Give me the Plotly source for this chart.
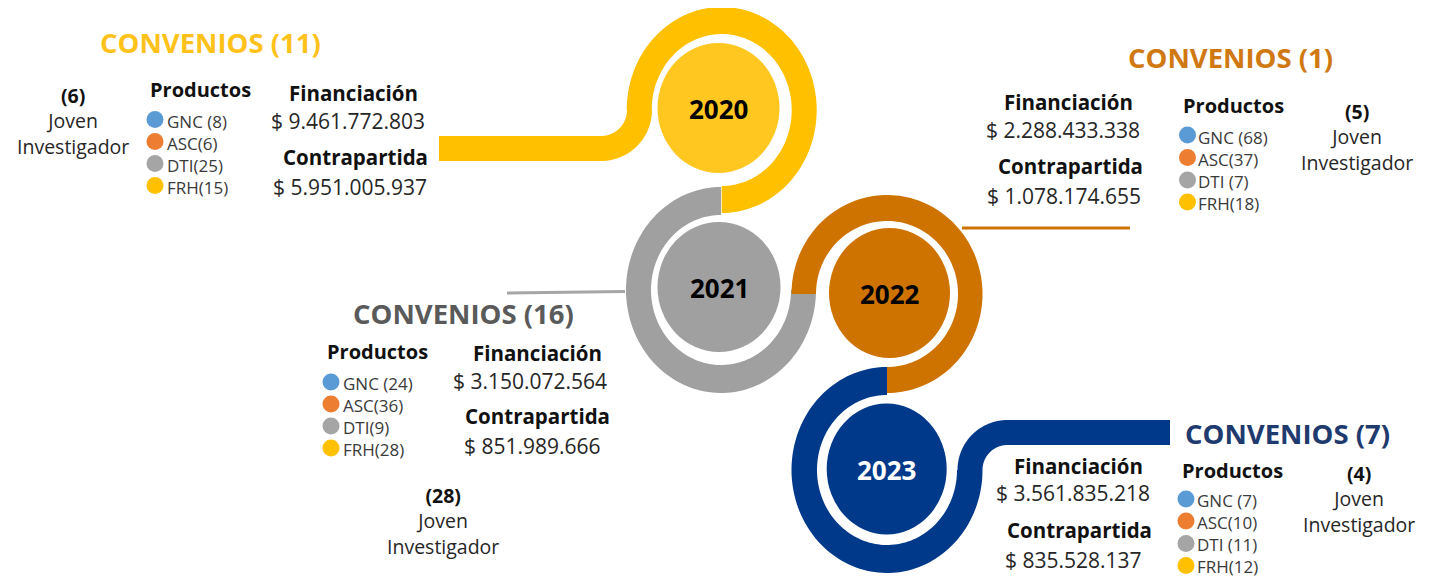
import numpy as np
import plotly.graph_objects as go

# ---------------- data ----------------
years = ["2020", "2021", "2022", "2023"]
convenios = [11, 16, 1, 7]
financiacion = [9461772803, 3150072564, 2288433338, 3561835218]
contrapartida = [5951005937, 851989666, 1078174655, 835528137]
joven_investigador = [6, 28, 5, 4]
product_codes = ["GNC", "ASC", "DTI", "FRH"]
gnc = [8, 24, 68, 7]
asc = [6, 36, 37, 10]
dti = [25, 9, 7, 11]
frh = [15, 28, 18, 12]
product_sep = [[" ", "", "", ""], [" ", "", "", ""], [" ", "", " ", ""], [" ", "", " ", ""]]

# ---------------- styles / layout ----------------
W, H = 1439, 577
OFF = 8  # default page body margin
FONT = "Open Sans"
TXT = "#262626"
LEG_TXT = "#3a3a3a"
prod_colors = ["#5B9BD5", "#ED7D31", "#A5A5A5", "#FFC000"]
ring_colors = ["#FFC000", "#A0A0A0", "#CE7200", "#00398A"]
disk_colors = ["#FFC720", "#A0A0A0", "#CE7200", "#00398A"]
year_text_colors = ["#000000", "#000000", "#000000", "#FFFFFF"]
title_colors = ["#FFC21A", "#5A5A5A", "#D07812", "#1F3A6E"]

rings = [
    dict(c=(721.7, 110), ro=(95, 103), ri=(70, 76), t=(180, 450)),
    dict(c=(721.0, 290), ro=(95, 103), ri=(70, 75), t=(0, 270)),
    dict(c=(887.0, 294), ro=(95.5, 99), ri=(71, 73), t=(-180, 90)),
    dict(c=(887.0, 470), ro=(95.5, 103), ri=(70, 75), t=(0, 270)),
]
disks = [
    dict(c=(718.5, 108), r=(61, 65)),
    dict(c=(719.0, 287), r=(61.5, 65)),
    dict(c=(889.5, 293), r=(60.5, 65)),
    dict(c=(886.7, 469), r=(60, 65.5)),
]
blocks = [
    dict(title=(210, 42), prod=(200, 89), dots=(155, [119.5, 141.5, 163.5, 185.5]), tx=165,
         fin=(353, 93), finv=(348, 121), con=(355, 157), conv=(350, 187),
         jov=(72.5, 121)),
    dict(title=(463, 313), prod=(377.5, 351), dots=(331, [382, 404, 426, 448]), tx=341,
         fin=(537, 353), finv=(530, 381), con=(537.5, 416), conv=(532.5, 446),
         jov=(443, 521)),
    dict(title=(1230, 57), prod=(1233, 105), dots=(1187.5, [135, 157.5, 180, 202]), tx=1196,
         fin=(1068, 102), finv=(1062.5, 130), con=(1070, 166), conv=(1064, 196),
         jov=(1357, 137)),
    dict(title=(1287.5, 433), prod=(1232, 470), dots=(1186, [499, 521, 543.5, 565.5]), tx=1195,
         fin=(1078, 466), finv=(1072.5, 493), con=(1079, 530), conv=(1073, 560),
         jov=(1359, 498.5)),
]


def band_path(cx, cy, ro, ri, t0, t1, n=120):
    t = np.radians(np.linspace(t0, t1, n))
    ox = cx + ro[0] * np.cos(t)
    oy = cy + ro[1] * np.sin(t)
    ix = cx + ri[0] * np.cos(t[::-1])
    iy = cy + ri[1] * np.sin(t[::-1])
    pts = [f"{x:.2f},{y:.2f}" for x, y in zip(np.concatenate([ox, ix]), np.concatenate([oy, iy]))]
    return "M " + " L ".join(pts) + " Z"


def money(v):
    return "$ " + f"{v:,}".replace(",", ".")


shapes = []
shapes.append(dict(type="path", path=band_path(601, 110, (51, 51), (26, 26), 0, 90),
                   fillcolor=ring_colors[0], line=dict(width=0), layer="below"))
shapes.append(dict(type="rect", x0=439, x1=601.5, y0=136, y1=161,
                   fillcolor=ring_colors[0], line=dict(width=0), layer="below"))
shapes.append(dict(type="path", path=band_path(1007.5, 470, (50, 50), (25, 25), 180, 270),
                   fillcolor=ring_colors[3], line=dict(width=0), layer="below"))
shapes.append(dict(type="rect", x0=1007, x1=1170, y0=420, y1=445,
                   fillcolor=ring_colors[3], line=dict(width=0), layer="below"))
shapes.append(dict(type="line", x0=507, y0=293, x1=625, y1=291.5,
                   line=dict(color="#A6A6A6", width=3), layer="below"))
shapes.append(dict(type="line", x0=962, y0=228, x1=1130, y1=228,
                   line=dict(color=ring_colors[2], width=3), layer="below"))

for i in range(4):
    rg = rings[i]
    shapes.append(dict(type="path", path=band_path(rg["c"][0], rg["c"][1], rg["ro"], rg["ri"], *rg["t"]),
                       fillcolor=ring_colors[i], line=dict(width=0), layer="below"))
for i in range(4):
    d = disks[i]
    shapes.append(dict(type="circle", x0=d["c"][0] - d["r"][0], x1=d["c"][0] + d["r"][0],
                       y0=d["c"][1] - d["r"][1], y1=d["c"][1] + d["r"][1],
                       fillcolor=disk_colors[i], line=dict(width=0), layer="below"))

annotations = []


def add_text(x, y, text, size, color=TXT, bold=False, xanchor="center", align="center"):
    annotations.append(dict(x=x, y=y, xref="x", yref="y", text=f"<b>{text}</b>" if bold else text,
                            showarrow=False, xanchor=xanchor, yanchor="middle", align=align,
                            font=dict(family=FONT, size=size, color=color)))


fig = go.Figure()
prod_values = [gnc, asc, dti, frh]
for i in range(4):
    b = blocks[i]
    d = disks[i]
    add_text(d["c"][0], d["c"][1] + 1, years[i], 26, year_text_colors[i], bold=True)
    add_text(b["title"][0], b["title"][1], f"CONVENIOS ({convenios[i]})", 27.5, title_colors[i], bold=True)
    add_text(b["prod"][0], b["prod"][1], "Productos", 20, "#111111", bold=True)
    add_text(b["fin"][0], b["fin"][1], "Financiación", 20.5, "#111111", bold=True)
    add_text(b["finv"][0], b["finv"][1], money(financiacion[i]), 21, TXT)
    add_text(b["con"][0], b["con"][1], "Contrapartida", 20.5, "#111111", bold=True)
    add_text(b["conv"][0], b["conv"][1], money(contrapartida[i]), 21, TXT)
    jx, jy = b["jov"]
    add_text(jx, jy, f"<span style='color:#111111'><b>({joven_investigador[i]})</b></span><br>Joven<br>Investigador",
             19.5, TXT)
    dx, dys = b["dots"]
    fig.add_trace(go.Scatter(x=[dx] * 4, y=dys, mode="markers",
                             marker=dict(size=17, color=prod_colors, line=dict(width=0)),
                             hoverinfo="skip", showlegend=False))
    labels = [f"{product_codes[k]}{product_sep[i][k]}({prod_values[k][i]})" for k in range(4)]
    add_text(b["tx"], float(np.mean(dys)) + 1.5, "<br>".join(labels), 17, LEG_TXT,
             xanchor="left", align="left")

fig.update_layout(
    width=W - OFF, height=H - OFF, autosize=False,
    margin=dict(l=0, r=0, t=0, b=0, pad=0),
    paper_bgcolor="white", plot_bgcolor="white",
    xaxis=dict(range=[OFF, W], visible=False, fixedrange=True),
    yaxis=dict(range=[H, OFF], visible=False, fixedrange=True),
    shapes=shapes, annotations=annotations, showlegend=False,
)
fig.write_html("out.html")
